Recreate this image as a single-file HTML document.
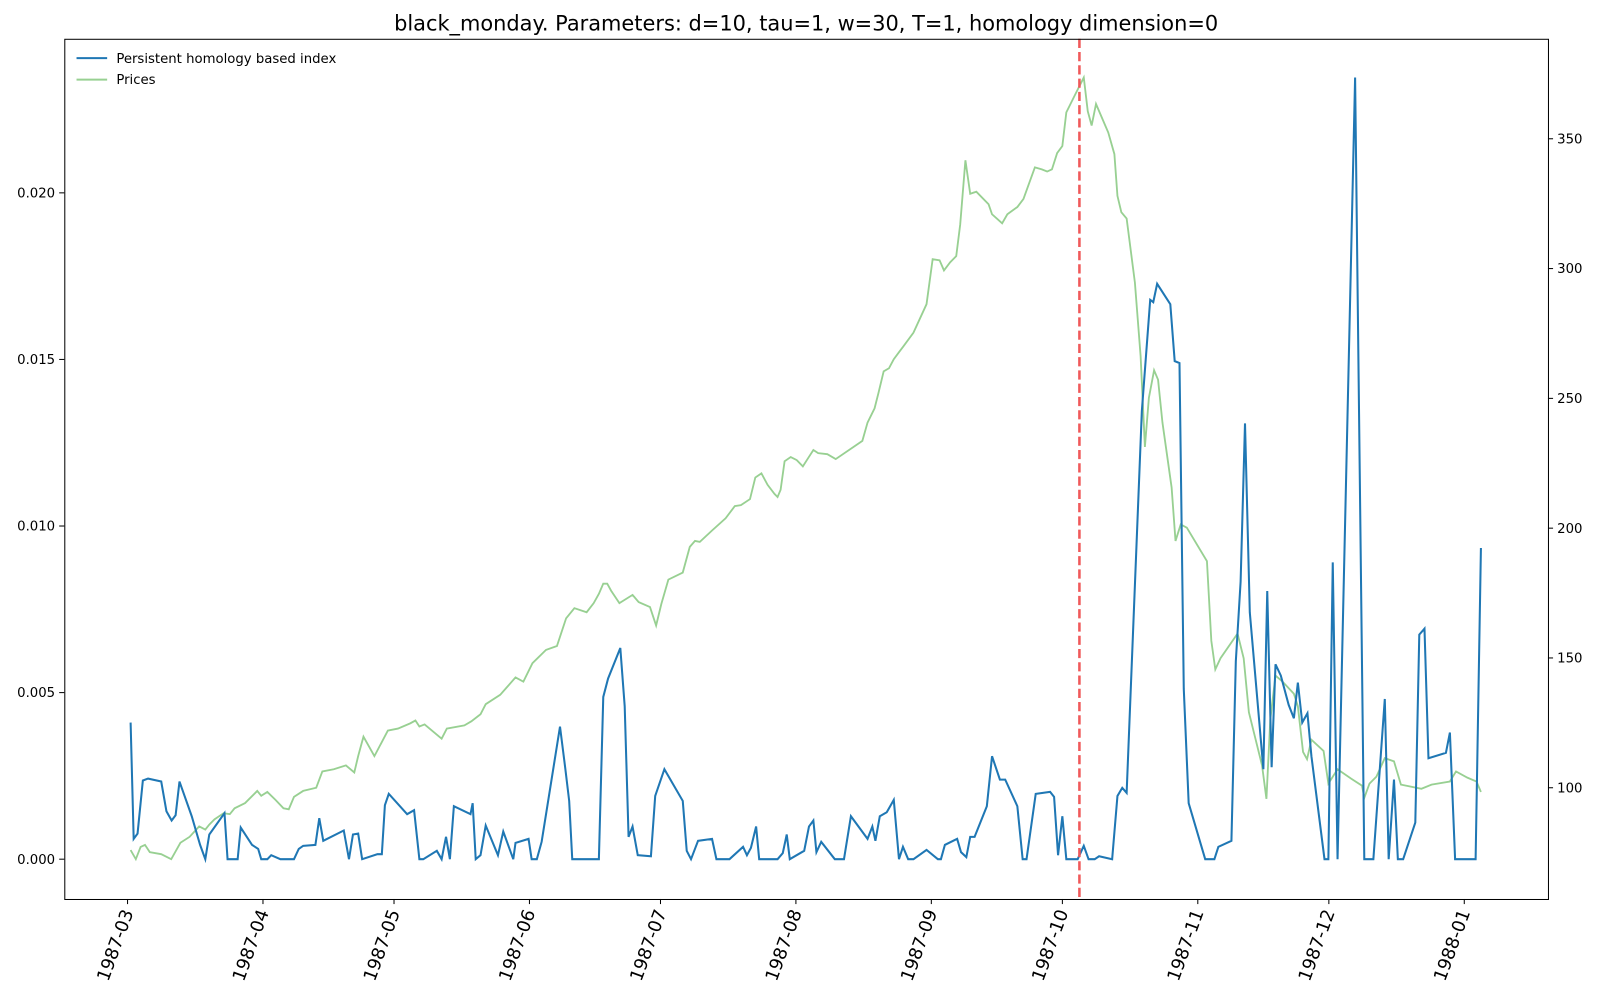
<!DOCTYPE html>
<html><head><meta charset="utf-8"><style>
html,body{margin:0;padding:0;background:#fff;}
svg{display:block;font-family:"DejaVu Sans","Liberation Sans",sans-serif;}
</style></head><body>
<svg id="chart" width="1600" height="1000" viewBox="0 0 1568 980" preserveAspectRatio="none">
<text x="790" y="30" text-anchor="middle" font-size="20.5">black_monday. Parameters: d=10, tau=1, w=30, T=1, homology dimension=0</text>
<g id="plot"></g>
<rect x="63.5" y="38.5" width="1454" height="843" fill="none" stroke="#000" stroke-width="1"/>
<g>
<line x1="75" y1="57" x2="105" y2="57" stroke="#1f77b4" stroke-width="2"/>
<text x="114" y="61.5" font-size="13">Persistent homology based index</text>
<line x1="75" y1="78" x2="105" y2="78" stroke="#98d092" stroke-width="2"/>
<text x="114" y="82.5" font-size="13">Prices</text>
</g>
</svg>
<script>
const xMonthLabels = ["1987-03","1987-04","1987-05","1987-06","1987-07","1987-08","1987-09","1987-10","1987-11","1987-12","1988-01"];
const xMonthDays = [0,31,61,92,122,153,184,214,245,275,306];
const leftTicks = [0,0.005,0.010,0.015,0.020];
const leftTickLabels = ["0.000","0.005","0.010","0.015","0.020"];
const rightTicks = [100,150,200,250,300,350];
const eventDay = 217.9;
const indexDays = [0.7,1.4,2.3,3.5,4.7,7.7,8.9,10.1,11.0,11.9,14.7,16.6,17.8,18.7,22.2,22.9,25.2,25.9,28.5,29.9,30.6,32.0,32.9,35.0,38.1,39.2,40.2,43.0,43.9,44.8,49.5,50.7,51.6,52.8,53.7,57.2,58.2,58.9,59.8,64.0,65.6,66.8,67.7,70.8,71.9,72.9,73.8,74.7,78.5,79.0,79.7,80.8,82.0,84.8,86.0,88.3,88.8,91.8,92.5,93.7,94.8,99.0,100.2,101.1,101.8,107.9,108.9,110.0,112.8,113.8,114.7,115.6,116.8,119.8,120.8,122.9,127.1,128.0,129.0,130.6,133.8,134.8,137.8,140.9,141.8,142.7,143.9,144.6,148.8,150.0,150.9,151.6,154.9,156.0,157.0,157.7,158.8,161.9,164.0,165.6,169.4,170.5,171.2,172.2,173.8,175.4,176.6,177.5,178.7,179.9,182.9,185.5,186.2,187.1,189.9,190.8,192.0,192.9,193.9,196.7,197.9,199.7,200.9,203.7,204.9,205.8,207.9,211.2,212.1,213.0,214.0,214.9,217.5,218.9,220.0,221.4,222.4,225.4,226.6,227.7,228.7,232.2,234.1,234.8,235.7,238.7,239.7,240.8,241.8,242.9,246.7,248.8,249.7,252.7,253.7,254.8,255.8,256.9,260.0,260.9,261.9,262.8,264.0,265.8,267.0,267.9,268.9,270.1,271.0,274.0,274.9,275.9,277.0,281.0,283.1,285.2,287.8,288.7,289.9,290.8,292.0,294.8,295.7,296.9,297.8,301.8,302.7,303.9,308.6,309.8];
const indexValsMilli = [4.10,0.61,0.77,2.36,2.42,2.33,1.44,1.16,1.32,2.33,1.29,0.43,0,0.74,1.38,0,0,0.95,0.43,0.31,0,0,0.12,0,0,0.31,0.40,0.43,1.23,0.55,0.86,0,0.74,0.77,0,0.15,0.15,1.62,1.96,1.35,1.47,0,0,0.25,0,0.67,0,1.59,1.35,1.68,0,0.12,1.01,0.12,0.83,0,0.49,0.61,0,0,0.52,3.98,2.72,1.75,0,0,4.87,5.42,6.34,4.59,0.67,0.98,0.12,0.09,1.90,2.70,1.75,0.25,0,0.55,0.61,0,0,0.37,0.12,0.34,0.98,0,0,0.18,0.74,0,0.25,0.98,1.16,0.21,0.52,0,0,1.29,0.61,0.98,0.55,1.29,1.41,1.78,0,0.37,0,0,0.28,0,0,0.43,0.61,0.21,0.06,0.67,0.67,1.59,3.09,2.39,2.39,1.59,0,0,1.96,2.02,1.87,0.12,1.29,0,0,0.40,0,0,0.09,0,1.90,2.14,1.99,13.45,16.79,16.72,17.27,16.66,14.95,14.89,5.11,1.68,0,0,0.37,0.55,5.94,8.33,13.08,7.41,2.70,8.05,2.76,5.85,5.51,4.63,4.23,5.30,4.10,4.38,3.09,0,0,8.91,0,23.46,0,0,4.81,0,2.39,0,0,1.10,6.74,6.92,3.03,3.19,3.80,0,0,9.34];
const priceDays = [0.7,1.9,3.0,4.0,5.1,7.7,10.0,12.1,14.2,16.4,17.8,18.7,19.9,22.0,23.4,24.5,26.9,29.7,30.6,32.0,33.9,35.7,36.9,38.1,40.2,43.2,44.6,47.2,50.0,51.9,52.8,54.0,56.5,59.6,61.9,64.7,65.9,66.8,68.0,71.9,73.1,77.1,78.7,80.8,82.0,85.3,86.7,88.8,90.6,92.7,95.8,98.3,100.4,102.3,105.1,106.7,107.9,108.9,109.8,110.7,112.6,115.6,117.0,119.6,121.0,122.2,123.8,127.1,128.7,129.9,131.0,133.8,136.9,139.0,140.4,142.5,143.7,145.1,146.5,148.1,148.8,149.5,150.4,151.8,153.2,154.6,155.8,157.0,158.1,160.2,162.1,168.2,169.4,171.0,171.9,173.1,174.3,175.4,176.6,177.5,179.9,182.9,184.3,185.9,186.9,188.3,189.7,190.6,191.8,192.9,194.3,197.1,197.9,200.2,201.4,203.7,205.1,206.7,207.7,209.3,210.5,211.6,212.8,214.0,214.9,217.0,218.9,219.8,220.7,221.7,224.5,225.9,226.6,227.5,228.7,230.6,231.9,232.9,233.8,235.0,235.9,236.9,239.0,239.9,241.1,242.5,247.1,248.1,249.0,250.2,254.1,255.5,256.7,259.7,260.7,261.6,262.8,264.4,267.0,267.9,269.1,270.0,271.0,273.8,274.9,277.0,280.1,282.6,283.1,284.3,285.9,287.8,289.9,291.5,296.2,298.5,302.7,304.1,306.7,308.8,309.8];
const priceVals = [76.0,72.5,77.2,78.0,75.2,74.4,72.5,78.8,81.1,85.1,83.9,85.8,87.8,90.2,89.8,92.1,94.1,98.8,96.9,98.4,95.3,92.1,91.7,96.5,98.8,100,106.3,107.1,108.6,105.9,112.2,119.7,112.2,122.0,122.8,124.8,125.9,123.6,124.4,118.9,122.8,124.0,125.6,128.3,132.2,135.8,138.5,142.5,140.9,148.0,153.1,154.6,165.3,169.2,167.6,171.1,174.7,178.6,178.6,175.9,171.1,174.3,171.5,169.6,162.5,170.8,180.2,182.9,192.8,195.1,194.7,199.1,203.8,208.5,208.9,211.2,219.5,221.1,216.7,213.2,212.0,214.8,225.8,227.4,226.2,223.8,227.0,230.1,228.9,228.5,226.6,233.6,240.7,246.2,252.1,260.4,261.6,265.1,267.8,269.8,275.3,286.3,303.6,303.2,299.3,302.4,304.8,317.0,341.7,328.8,329.6,324.8,320.9,317.4,320.9,323.7,326.8,334.3,339.0,338.2,337.4,338.2,344.5,347.2,360.2,367.3,373.6,360.6,355.1,363.4,352.4,344.1,328.0,321.7,319.3,294.6,266.3,231.3,250.2,260.8,257.2,240.7,215.6,195.1,201.4,200.2,187.3,156.6,145.6,149.9,159.4,149.9,129.1,108.6,95.7,126.3,143.2,140.9,136.2,131.4,113.8,111.0,118.5,114.2,101.6,107.1,103.5,100.8,96.1,101.6,104.3,111.4,110.2,101.2,99.6,101.2,102.4,106.3,103.9,102.4,98.4];

const NS="http://www.w3.org/2000/svg";
const X = d => 125 + d*4.281;
const YL = v => 842 - v/0.005*163.25;
const YR = p => 772 - (p-100)*2.544;
const g = document.getElementById('plot');
function mk(tag, attrs){const e=document.createElementNS(NS,tag);for(const k in attrs)e.setAttribute(k,attrs[k]);g.appendChild(e);return e;}

xMonthDays.forEach((d,i)=>{
  const x=X(d);
  const t=mk('line',{x1:x,y1:881,x2:x,y2:886,stroke:'#000'});
  
  
  const lb=mk('text',{x:x+6,y:894,'font-size':17.5,'text-anchor':'end',transform:`rotate(-70 ${x+6} 894)`});
  lb.textContent=xMonthLabels[i];
  
  
});
leftTicks.forEach((v,i)=>{
  const y=YL(v);
  const t=mk('line',{x1:58,y1:y,x2:63,y2:y,stroke:'#000'});
  
  
  const lb=mk('text',{x:54,y:y+4.5,'font-size':13,'text-anchor':'end'});
  lb.textContent=leftTickLabels[i];
  
  
});
rightTicks.forEach(v=>{
  const y=YR(v);
  const t=mk('line',{x1:1517,y1:y,x2:1522,y2:y,stroke:'#000'});
  
  
  const lb=mk('text',{x:1526,y:y+4.5,'font-size':13});
  lb.textContent=String(v);
  
  
});
const pp=mk('polyline',{points:priceDays.map((d,i)=>X(d).toFixed(1)+','+YR(priceVals[i]).toFixed(1)).join(' '),fill:'none',stroke:'#98d092','stroke-width':1.8});


const ip=mk('polyline',{points:indexDays.map((d,i)=>X(d).toFixed(1)+','+YL(indexValsMilli[i]/1000).toFixed(1)).join(' '),fill:'none',stroke:'#1f77b4','stroke-width':2});


const ev=mk('line',{x1:X(eventDay),y1:38,x2:X(eventDay),y2:881,stroke:'#f0595a','stroke-width':2.5,'stroke-dasharray':'9,4'});


</script>
</body></html>
